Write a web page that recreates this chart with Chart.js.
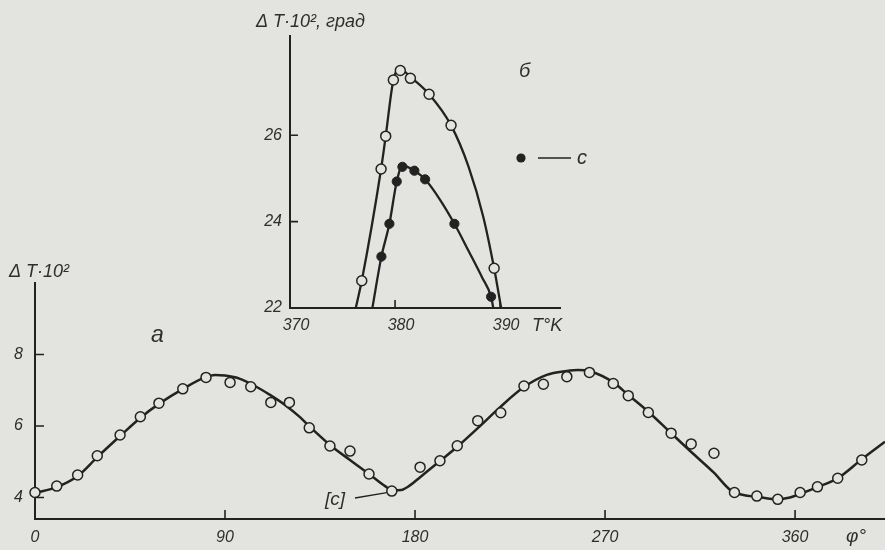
<!DOCTYPE html>
<html>
<head>
<meta charset="utf-8">
<script src="https://cdn.jsdelivr.net/npm/chart.js@4.4.1/dist/chart.umd.min.js"></script>
<style>
  html, body { margin: 0; padding: 0; background: #e3e3e0; }
  #wrap { position: relative; width: 885px; height: 550px; }
  #wrap canvas { position: absolute; left: 0; top: 0; }
</style>
</head>
<body>
<div id="wrap">
  <canvas id="mainChart" width="885" height="550"></canvas>
  <canvas id="insetChart" width="885" height="550"></canvas>
</div>
<script>
// panel а: dT*10^2 against angle phi
const phiPoints = [0, 10.3, 20.2, 29.5, 40.3, 49.9, 58.7, 70.0, 81.0, 92.4,
  102.2, 111.7, 120.5, 129.9, 139.7, 149.2, 158.2, 169.0, 182.4, 191.8,
  200.0, 209.7, 220.6, 231.6, 240.8, 251.9, 262.6, 273.9, 281.0, 290.5,
  301.3, 310.8, 321.6, 331.3, 341.9, 351.8, 362.4, 370.6, 380.2, 391.6];
const dtPoints = [4.14, 4.32, 4.63, 5.17, 5.75, 6.26, 6.64, 7.04, 7.36, 7.22,
  7.10, 6.66, 6.66, 5.95, 5.44, 5.30, 4.66, 4.18, 4.85, 5.03,
  5.45, 6.15, 6.37, 7.12, 7.17, 7.38, 7.50, 7.19, 6.85, 6.38,
  5.80, 5.50, 5.24, 4.14, 4.04, 3.95, 4.14, 4.30, 4.54, 5.05];
const phiCurve = [0, 10.3, 20.2, 29.5, 40.3, 49.7, 59.2, 70.1, 80.5, 85.3,
  90.0, 97.1, 104.2, 111.3, 118.4, 125.5, 129.8, 139.7, 149.2, 158.2,
  165.8, 169.6, 173.4, 177.6, 182.4, 191.8, 200.0, 210.8, 220.3, 231.6,
  242.4, 251.9, 257.2, 262.9, 273.9, 281.0, 290.5, 301.3, 310.7, 321.3,
  330.0, 335.5, 341.9, 351.8, 357.6, 362.4, 370.6, 380.2, 391.6, 402.6];
const dtCurve = [4.13, 4.29, 4.60, 5.13, 5.72, 6.22, 6.64, 7.04, 7.36, 7.43,
  7.41, 7.32, 7.12, 6.87, 6.59, 6.25, 6.00, 5.47, 5.05, 4.66,
  4.32, 4.20, 4.21, 4.34, 4.57, 5.02, 5.42, 6.00, 6.53, 7.09,
  7.43, 7.54, 7.57, 7.53, 7.22, 6.87, 6.40, 5.80, 5.28, 4.71,
  4.18, 4.07, 4.02, 3.95, 4.00, 4.10, 4.29, 4.54, 5.07, 5.56];
const phiTicks = [0, 90, 180, 270, 360];
const dtTicks = [4, 6, 8];

// panel б: dT*10^2 against temperature T, K
const tOpen = [376.83, 378.67, 379.11, 379.84, 380.50, 381.46, 383.24, 385.33, 389.43];
const dtOpen = [22.63, 25.22, 25.98, 27.28, 27.50, 27.32, 26.95, 26.23, 22.92];
const tFilled = [378.70, 379.46, 380.16, 380.70, 381.84, 382.86, 385.65, 389.14];
const dtFilled = [23.19, 23.95, 24.93, 25.27, 25.18, 24.98, 23.95, 22.26];
const tOpenCurve = [376.26, 376.83, 378.67, 379.11, 379.84, 380.4, 381.46, 383.24, 385.33, 387.0, 388.4, 389.43, 390.1];
const dtOpenCurve = [22.0, 22.63, 25.22, 25.98, 27.28, 27.55, 27.35, 26.95, 26.23, 25.27, 24.11, 22.92, 22.0];
const tFilledCurve = [377.84, 378.70, 379.46, 380.16, 380.7, 381.84, 382.86, 384.3, 385.65, 387.0, 388.3, 389.14, 389.35];
const dtFilledCurve = [22.0, 23.19, 23.95, 24.93, 25.3, 25.18, 24.98, 24.5, 23.95, 23.32, 22.7, 22.26, 22.0];
const tTicks = [370, 380, 390];
const dtInsetTicks = [22, 24, 26];

const paper = '#e3e3e0';
const ink = '#222';
const textColor = '#2e2e2e';
const fontFamily = "'Liberation Sans', Arial, sans-serif";

Chart.defaults.font.family = fontFamily;
Chart.defaults.font.style = 'italic';
Chart.defaults.font.size = 16;
Chart.defaults.color = textColor;

const toXY = (xs, ys) => xs.map((x, i) => ({ x: x, y: ys[i] }));

function drawText(ctx, text, x, y, size, align) {
  ctx.save();
  ctx.font = 'italic ' + size + 'px ' + fontFamily;
  ctx.fillStyle = textColor;
  ctx.textAlign = align || 'left';
  ctx.textBaseline = 'middle';
  ctx.fillText(text, x, y);
  ctx.restore();
}

// ticks that point into the plot, like on the printed figure
const innerTicks = {
  id: 'innerTicks',
  afterDatasetsDraw(chart, args, opts) {
    const ctx = chart.ctx;
    const xs = chart.scales.x, ys = chart.scales.y;
    ctx.save();
    ctx.strokeStyle = ink;
    ctx.lineWidth = 1.6;
    ctx.beginPath();
    xs.ticks.forEach(t => {
      if (t.value === xs.min) return;
      const px = xs.getPixelForValue(t.value);
      ctx.moveTo(px, ys.bottom);
      ctx.lineTo(px, ys.bottom - opts.len);
    });
    ys.ticks.forEach(t => {
      if (t.value === ys.min) return;
      const py = ys.getPixelForValue(t.value);
      ctx.moveTo(xs.left, py);
      ctx.lineTo(xs.left + opts.len, py);
    });
    ctx.stroke();
    ctx.restore();
  }
};

const mainLabels = {
  id: 'mainLabels',
  afterDraw(chart) {
    const ctx = chart.ctx;
    const xs = chart.scales.x, ys = chart.scales.y;
    drawText(ctx, 'Δ T·10²', 9, 272, 18);
    drawText(ctx, 'а', 151, 336, 23);
    drawText(ctx, 'φ°', 846, 537, 19);
    // [c] marker pointing at the minimum near 170 deg
    const px = xs.getPixelForValue(phiPoints[17]);
    const py = ys.getPixelForValue(dtPoints[17]);
    drawText(ctx, '[c]', 335, 500, 19, 'center');
    ctx.save();
    ctx.strokeStyle = ink;
    ctx.lineWidth = 1.3;
    ctx.beginPath();
    ctx.moveTo(355, 498);
    ctx.lineTo(px - 5, py + 1.5);
    ctx.stroke();
    ctx.restore();
  }
};

const insetLabels = {
  id: 'insetLabels',
  afterDraw(chart) {
    const ctx = chart.ctx;
    drawText(ctx, 'Δ T·10², град', 256, 22, 18);
    drawText(ctx, 'T°K', 532, 326, 18);
    drawText(ctx, 'б', 519, 71, 20);
    // legend: filled dot — c
    ctx.save();
    ctx.fillStyle = ink;
    ctx.beginPath();
    ctx.arc(521, 158, 4.6, 0, Math.PI * 2);
    ctx.fill();
    ctx.strokeStyle = ink;
    ctx.lineWidth = 1.6;
    ctx.beginPath();
    ctx.moveTo(538, 158);
    ctx.lineTo(571, 158);
    ctx.stroke();
    ctx.restore();
    drawText(ctx, 'с', 577, 158, 20);
  }
};

const axisBase = {
  type: 'linear',
  grid: { drawOnChartArea: false, drawTicks: false },
  border: { color: ink, width: 2 },
};

new Chart(document.getElementById('mainChart'), {
  type: 'scatter',
  data: {
    datasets: [{
      data: toXY(phiPoints, dtPoints),
      showLine: false,
      pointRadius: 5,
      pointHoverRadius: 5,
      pointBorderWidth: 1.5,
      pointBorderColor: ink,
      pointBackgroundColor: paper,
      clip: false
    }, {
      data: toXY(phiCurve, dtCurve),
      showLine: true,
      cubicInterpolationMode: 'monotone',
      borderColor: ink,
      borderWidth: 2.5,
      pointRadius: 0,
      clip: false
    }]
  },
  options: {
    responsive: false,
    animation: false,
    events: [],
    layout: { autoPadding: false, padding: { top: 283, left: 0, right: 0, bottom: 0 } },
    plugins: { legend: { display: false }, tooltip: { enabled: false }, innerTicks: { len: 9 } },
    scales: {
      x: Object.assign({}, axisBase, {
        min: 0, max: 402.6,
        afterBuildTicks: s => { s.ticks = phiTicks.map(v => ({ value: v })); },
        afterFit: s => { s.height = 31; s.paddingLeft = 0; s.paddingRight = 0; },
        ticks: { padding: 9, maxRotation: 0, autoSkip: false }
      }),
      y: Object.assign({}, axisBase, {
        min: 3.4, max: 10.0,
        afterBuildTicks: s => { s.ticks = dtTicks.map(v => ({ value: v })); },
        afterFit: s => { s.width = 35; s.paddingTop = 0; s.paddingBottom = 0; },
        ticks: { padding: 12 }
      })
    }
  },
  plugins: [innerTicks, mainLabels]
});

new Chart(document.getElementById('insetChart'), {
  type: 'scatter',
  data: {
    datasets: [{
      data: toXY(tOpen, dtOpen),
      showLine: false,
      pointRadius: 5,
      pointBorderWidth: 1.5,
      pointBorderColor: ink,
      pointBackgroundColor: paper,
      clip: false
    }, {
      data: toXY(tFilled, dtFilled),
      showLine: false,
      pointRadius: 4.6,
      pointBorderWidth: 1,
      pointBorderColor: ink,
      pointBackgroundColor: ink,
      clip: false
    }, {
      data: toXY(tOpenCurve, dtOpenCurve),
      showLine: true,
      cubicInterpolationMode: 'monotone',
      borderColor: ink,
      borderWidth: 2.3,
      pointRadius: 0
    }, {
      data: toXY(tFilledCurve, dtFilledCurve),
      showLine: true,
      cubicInterpolationMode: 'monotone',
      borderColor: ink,
      borderWidth: 2.3,
      pointRadius: 0
    }]
  },
  options: {
    responsive: false,
    animation: false,
    events: [],
    layout: { autoPadding: false, padding: { top: 36, left: 250, right: 325, bottom: 217 } },
    plugins: { legend: { display: false }, tooltip: { enabled: false }, innerTicks: { len: 8 } },
    scales: {
      x: Object.assign({}, axisBase, {
        min: 370, max: 395.7,
        afterBuildTicks: s => { s.ticks = tTicks.map(v => ({ value: v })); },
        afterFit: s => { s.height = 25; s.paddingLeft = 0; s.paddingRight = 0; },
        ticks: { padding: 8, labelOffset: 6, maxRotation: 0, autoSkip: false }
      }),
      y: Object.assign({}, axisBase, {
        min: 22, max: 28.3,
        afterBuildTicks: s => { s.ticks = dtInsetTicks.map(v => ({ value: v })); },
        afterFit: s => { s.width = 40; s.paddingTop = 0; s.paddingBottom = 0; },
        ticks: { padding: 8 }
      })
    }
  },
  plugins: [innerTicks, insetLabels]
});
</script>
</body>
</html>
